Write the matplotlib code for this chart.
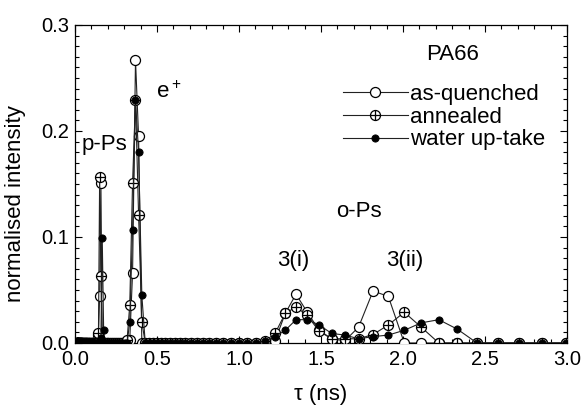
import matplotlib
matplotlib.use("Agg")
import matplotlib.pyplot as plt
from matplotlib.path import Path
from matplotlib.ticker import MultipleLocator, FormatStrFormatter

plt.rcParams['font.family'] = ['Liberation Sans', 'DejaVu Sans']
plt.rcParams['mathtext.fontset'] = 'custom'
plt.rcParams['mathtext.rm'] = 'Liberation Sans'
plt.rcParams['mathtext.it'] = 'Liberation Sans:italic'

# lifetime grid (ns)
tau = [
    .0098, .0103, .0108, .0113, .0119, .0125, .0131, .0138, .0145, .0152,
    .0160, .0168, .0177, .0186, .0195, .0205, .0216, .0227, .0238, .0250,
    .0263, .0277, .0291, .0306, .0321, .0338, .0355, .0373, .0392, .0412,
    .0433, .0455, .0478, .0502, .0528, .0555, .0583, .0613, .0644, .0677,
    .0712, .0748, .0786, .0826, .0868, .0912, .0959, .1008, .1060, .1114,
    .1171, .1231, .1294, .1360, .1430, .1503, .1580, .1661, .1746, .1835,
    .1929, .2028, .2132, .2241, .2356, .2476, .2603, .2736, .2876, .3023,
    .3177, .3339, .3510, .3689, .3877, .4075, .4283, .4502, .4732, .4974,
    .5228, .5495, .5776, .6071, .6381, .6707, .7050, .7410, .7789, .8187,
    .8605, .9045, .9507, .9993, 1.0504, 1.1041, 1.1605, 1.2198, 1.2821, 1.3476,
    1.4165, 1.4889, 1.5650, 1.6450, 1.7291, 1.8175, 1.9104, 2.0080, 2.1106, 2.2185,
    2.3319, 2.4511, 2.5764, 2.7081, 2.8465, 2.9920,
]

as_quenched = [
    0, 0, 0, 0, 0, 0, 0, 0, 0, 0,
    0, 0, 0, 0, 0, 0, 0, 0, 0, 0,
    0, 0, 0, 0, 0, 0, 0, 0, 0, 0,
    0, 0, 0, 0, 0, 0, 0, 0, 0, 0,
    0, 0, 0, 0, 0, 0, 0, 0, 0, 0,
    0, 0, 0, 0, .008, .044, .151, 0, 0, 0,
    0, 0, 0, 0, 0, 0, 0, 0, 0, 0,
    0, .003, .066, .267, .195, 0, 0, 0, 0, 0,
    0, 0, 0, 0, 0, 0, 0, 0, 0, 0,
    0, 0, 0, 0, 0, 0, .001, .002, .028, .046,
    .029, .012, .004, .002, .015, .049, .044, 0, 0, 0,
    0, 0, 0, 0, 0, 0,
]

annealed = [
    0, 0, 0, 0, 0, 0, 0, 0, 0, 0,
    0, 0, 0, 0, 0, 0, 0, 0, 0, 0,
    0, 0, 0, 0, 0, 0, 0, 0, 0, 0,
    0, 0, 0, 0, 0, 0, 0, 0, 0, 0,
    0, 0, 0, 0, 0, 0, 0, 0, 0, 0,
    0, 0, 0, 0, .009, .157, .063, 0, 0, 0,
    0, 0, 0, 0, 0, 0, 0, 0, 0, 0,
    .003, .036, .151, .229, .121, .020, 0, 0, 0, 0,
    0, 0, 0, 0, 0, 0, 0, 0, 0, 0,
    0, 0, 0, 0, 0, 0, .002, .009, .028, .034,
    .026, .011, .004, .004, .004, .008, .017, .029, .015, 0,
    0, 0, 0, 0, 0, 0,
]

water_uptake = [
    0, 0, 0, 0, 0, 0, 0, 0, 0, 0,
    0, 0, 0, 0, 0, 0, 0, 0, 0, 0,
    0, 0, 0, 0, 0, 0, 0, 0, 0, 0,
    0, 0, 0, 0, 0, 0, 0, 0, 0, 0,
    0, 0, 0, 0, 0, 0, 0, 0, 0, 0,
    0, 0, 0, 0, 0, 0, .005, .099, .012, 0,
    0, 0, 0, 0, 0, 0, 0, 0, 0, 0,
    0, .020, .107, .229, .180, .045, 0, 0, 0, 0,
    0, 0, 0, 0, 0, 0, 0, 0, 0, 0,
    0, 0, 0, 0, 0, 0, .002, .006, .012, .022,
    .022, .017, .009, .0075, .004, .006, .0075, .012, .019, .022,
    .013, 0, 0, 0, 0, 0,
]

series_labels = ["as-quenched", "annealed", "water up-take"]

# circle-with-plus marker
circ = Path.unit_circle()
hline = Path([[-1, 0], [1, 0]], [Path.MOVETO, Path.LINETO])
vline = Path([[0, -1], [0, 1]], [Path.MOVETO, Path.LINETO])
oplus = Path.make_compound_path(circ, hline, vline)

fig = plt.figure(figsize=(5.85, 4.07), dpi=100)
ax = fig.add_axes([75 / 585, 1 - 343 / 407, 492 / 585, 318 / 407])

lc = '#222222'
ax.plot(tau, as_quenched, color=lc, lw=0.8, marker='o', ms=7.2,
        mfc='white', mec='black', mew=0.9, label=series_labels[0], zorder=3)
ax.plot(tau, annealed, color=lc, lw=0.8, marker=oplus, ms=7.2,
        mfc='white', mec='black', mew=0.9, label=series_labels[1], zorder=4)
ax.plot(tau, water_uptake, color=lc, lw=0.8, marker='o', ms=5.2,
        mfc='black', mec='black', mew=0.6, label=series_labels[2], zorder=5)

ax.set_xlim(0, 3.0)
ax.set_ylim(0, 0.3)
ax.xaxis.set_major_locator(MultipleLocator(0.5))
ax.xaxis.set_minor_locator(MultipleLocator(0.1))
ax.yaxis.set_major_locator(MultipleLocator(0.1))
ax.yaxis.set_minor_locator(MultipleLocator(0.01))
ax.xaxis.set_major_formatter(FormatStrFormatter('%.1f'))
ax.yaxis.set_major_formatter(FormatStrFormatter('%.1f'))
ax.tick_params(which='both', direction='in', top=True, right=True, width=0.8)
ax.tick_params(which='major', length=5, labelsize=14.5)
ax.tick_params(which='minor', length=3)
ax.tick_params(axis='x', pad=5)
ax.tick_params(axis='y', pad=4)
for s in ax.spines.values():
    s.set_linewidth(0.9)

ax.set_xlabel('τ (ns)', fontsize=16)
ax.set_ylabel('normalised intensity', fontsize=16)
ax.xaxis.set_label_coords(0.5, -0.13)
ax.yaxis.set_label_coords(-0.10, 0.44)

tk = dict(fontsize=16, ha='center', va='center')
ax.text(0.18, 0.187, 'p-Ps', **tk)
ax.text(0.57, 0.237, 'e$^+$', **tk)
ax.text(1.73, 0.124, 'o-Ps', **tk)
ax.text(1.33, 0.078, '3(i)', **tk)
ax.text(2.01, 0.078, '3(ii)', **tk)
ax.text(2.305, 0.272, 'PA66', **tk)

leg = ax.legend(loc='upper left', bbox_to_anchor=(0.545, 0.815), frameon=False,
                fontsize=16, handlelength=2.9, handletextpad=0.1,
                labelspacing=0.08, borderpad=0, borderaxespad=0)

fig.savefig('out.png', dpi=100)
